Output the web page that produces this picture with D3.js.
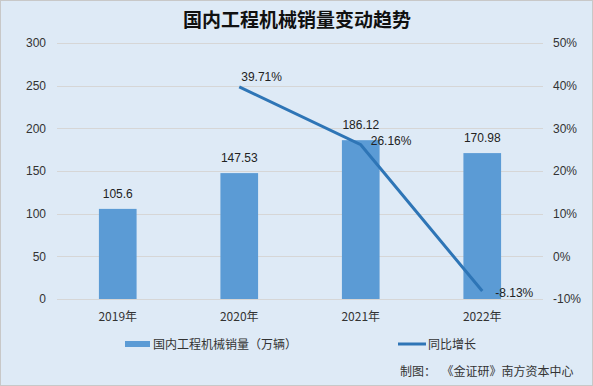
<!DOCTYPE html>
<head>
    <style>
    body { margin: 0; background: #fff; }
    text { font-family: "Liberation Sans", "Noto Sans CJK SC", sans-serif; fill: #222; }
    .grid line { stroke: #d6d6d6; }
    </style>
    <script src="https://d3js.org/d3.v7.min.js"></script>
</head>
<body>
    <svg width="593" height="386"></svg>
    <script>

    var years = ["2019年", "2020年", "2021年", "2022年"];
    var sales = [105.6, 147.53, 186.12, 170.98];
    var growth = [null, 39.71, 26.16, -8.13];
    var leftTicks = [0, 50, 100, 150, 200, 250, 300];
    var rightTicks = [-10, 0, 10, 20, 30, 40, 50];

    var svg = d3.select("svg");
    var cjk = "'Noto Sans CJK SC', sans-serif";

    svg.append("rect")
        .attr("x", 0.5).attr("y", 0.5)
        .attr("width", 592).attr("height", 385)
        .attr("fill", "#deeaf6")
        .attr("stroke", "#c8c8c8");

    var x = d3.scaleBand()
        .domain(years)
        .range([57, 543])
        .paddingInner(0.69)
        .paddingOuter(0.345);

    var y = d3.scaleLinear().domain([0, 300]).range([299, 43]);
    var y2 = d3.scaleLinear().domain([-10, 50]).range([299, 43]);

    svg.append("text")
        .attr("x", 297).attr("y", 27)
        .attr("text-anchor", "middle")
        .style("font-family", cjk)
        .style("font-size", "19px")
        .style("font-weight", "bold")
        .style("fill", "#111")
        .text("国内工程机械销量变动趋势");

    // gridlines
    svg.append("g").attr("class", "grid")
      .selectAll("line")
      .data(leftTicks)
      .enter().append("line")
        .attr("x1", 57).attr("x2", 543)
        .attr("y1", function(d) { return Math.round(y(d)) + 0.5; })
        .attr("y2", function(d) { return Math.round(y(d)) + 0.5; });

    var leftAxis = svg.append("g")
        .attr("transform", "translate(46,0)")
        .call(d3.axisLeft(y).tickValues(leftTicks).tickSize(0).tickPadding(0));
    leftAxis.select(".domain").remove();
    leftAxis.selectAll("text").style("font-size", "12px").style("fill", "#333");

    var rightAxis = svg.append("g")
        .attr("transform", "translate(553,0)")
        .call(d3.axisRight(y2).tickValues(rightTicks).tickSize(0).tickPadding(0)
            .tickFormat(function(d) { return d + "%"; }));
    rightAxis.select(".domain").remove();
    rightAxis.selectAll("text").style("font-size", "12px").style("fill", "#333");

    var bottomAxis = svg.append("g")
        .attr("transform", "translate(0,306)")
        .call(d3.axisBottom(x).tickSize(0).tickPadding(6));
    bottomAxis.select(".domain").remove();
    bottomAxis.selectAll("text")
        .style("font-size", "12px").style("fill", "#333")
        .style("font-family", cjk);

    svg.append("g")
      .selectAll("rect")
      .data(sales)
      .enter().append("rect")
        .attr("x", function(d, i) { return x(years[i]); })
        .attr("y", function(d) { return y(d); })
        .attr("width", x.bandwidth())
        .attr("height", function(d) { return y(0) - y(d); })
        .attr("fill", "#5b9bd5");

    svg.append("g")
      .selectAll("text")
      .data(sales)
      .enter().append("text")
        .attr("x", function(d, i) { return x(years[i]) + x.bandwidth() / 2; })
        .attr("y", function(d) { return y(d) - 11; })
        .attr("text-anchor", "middle")
        .style("font-size", "12px")
        .text(function(d) { return d; });

    var pts = growth.map(function(d, i) { return { v: d, c: years[i] }; })
        .filter(function(d) { return d.v !== null; });

    var line = d3.line()
        .x(function(d) { return x(d.c) + x.bandwidth() / 2; })
        .y(function(d) { return y2(d.v); });

    svg.append("path")
        .datum(pts)
        .attr("d", line)
        .attr("fill", "none")
        .attr("stroke", "#2e75b6")
        .attr("stroke-width", 3);

    var lblDx = [0, 2, 10, 13];
    var lblDy = [-6, 0, 6];
    svg.append("g")
      .selectAll("text")
      .data(pts)
      .enter().append("text")
        .attr("x", function(d, i) { return x(d.c) + x.bandwidth() / 2 + lblDx[i + 1]; })
        .attr("y", function(d, i) { return y2(d.v) + lblDy[i]; })
        .style("font-size", "12px")
        .text(function(d) { return d.v + "%"; });

    // legend
    var lg = svg.append("g").attr("transform", "translate(0,344)");
    lg.append("rect").attr("x", 125).attr("y", -3).attr("width", 25).attr("height", 6).attr("fill", "#5b9bd5");
    lg.append("text").attr("x", 153).attr("y", 4.5)
        .style("font-family", cjk).style("font-size", "12px").style("fill", "#333")
        .text("国内工程机械销量（万辆）");
    lg.append("line").attr("x1", 398).attr("x2", 426).attr("y1", 0).attr("y2", 0)
        .attr("stroke", "#2e75b6").attr("stroke-width", 3);
    lg.append("text").attr("x", 428).attr("y", 4.5)
        .style("font-family", cjk).style("font-size", "12px").style("fill", "#333")
        .text("同比增长");

    svg.append("text")
        .attr("x", 400).attr("y", 376)
        .style("font-family", cjk).style("font-size", "12px").style("fill", "#333")
        .style("white-space", "pre")
        .text("制图：  《金证研》南方资本中心");

    </script>
</body>
